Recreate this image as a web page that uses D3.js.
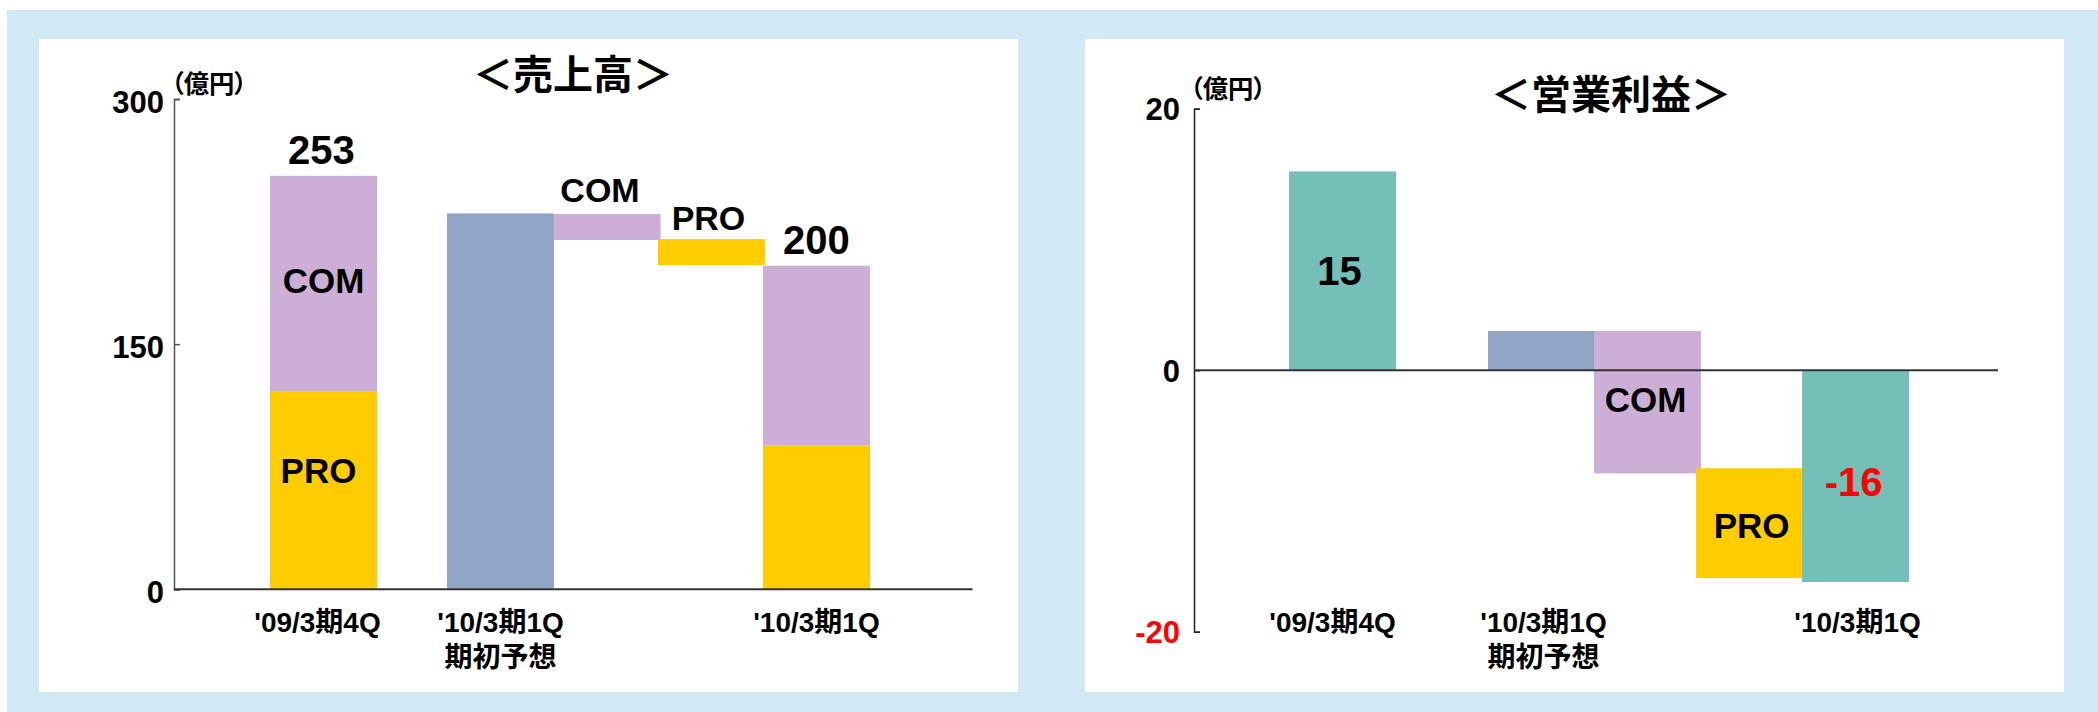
<!DOCTYPE html>
<html>
<head>
<meta charset="utf-8">
<script src="https://cdn.jsdelivr.net/npm/d3@7"></script>
<style>
  html, body { margin: 0; padding: 0; background: #fff; }
  svg { display: block; }
  text { font-family: "Liberation Sans", Arial, "Noto Sans CJK JP", sans-serif; font-weight: bold; }
  .cjk { font-family: "Noto Sans CJK JP", "Liberation Sans", sans-serif; font-feature-settings: "palt"; }
</style>
</head>
<body>
<script>
// ---------------- DATA ----------------
const categoryLabels = [["'09/3期4Q"], ["'10/3期1Q", "期初予想"], ["'10/3期1Q"]];
const unitLabel = "（億円）";

// 売上高 (sales)
const salesTitle = "＜売上高＞";
const salesTicks = [0, 150, 300];
const salesPRO = [121, 88];          // '09/3期4Q, '10/3期1Q
const salesCOM = [132, 110];
const salesForecast = 230;           // '10/3期1Q 期初予想
const salesBridgeCOM = [229.6, 213.7];
const salesBridgePRO = [214.3, 198.4];
const salesTotals = ["253", "200"];

// 営業利益 (operating profit)
const profitTitle = "＜営業利益＞";
const profitTicks = [-20, 0, 20];
const profitActual = [15.2, -16.2];  // '09/3期4Q, '10/3期1Q
const profitForecast = 3;
const profitBridgeCOM = [3, -7.9];
const profitBridgePRO = [-7.5, -15.9];
const profitLabels = ["15", "-16"];

const segNames = ["COM", "PRO"];

// ---------------- STYLE ----------------
const C = {
  bg: "#D1E8F5", panel: "#FFFFFF",
  com: "#CDAED6", pro: "#FFCC00", fc: "#91A5C6", op: "#74BFB7",
  red: "#FF0000", ink: "#000000", axis: "#333333"
};

const W = 2098, H = 712;
const svg = d3.select("body").append("svg").attr("width", W).attr("height", H);
svg.append("rect").attr("x", 7).attr("y", 10).attr("width", W - 7).attr("height", H - 10).attr("fill", C.bg);
svg.append("rect").attr("x", 39).attr("y", 39).attr("width", 979).attr("height", 653).attr("fill", C.panel);
svg.append("rect").attr("x", 1085).attr("y", 39).attr("width", 979).attr("height", 653).attr("fill", C.panel);

function capBase(center, fs) { return center + 0.358 * fs; }

function drawChart(cfg) {
  const g = svg.append("g");
  const x = d3.scaleLinear().domain([0, 1]).range(cfg.xRange);
  const y = d3.scaleLinear().domain(cfg.yDomain).range(cfg.yRange);
  const bw = x(cfg.barW) - x(0);

  // bars
  g.selectAll("rect.bar").data(cfg.bars).join("rect")
    .attr("class", "bar")
    .attr("x", d => x(cfg.slots[d.slot]) - bw / 2)
    .attr("width", bw)
    .attr("y", d => y(Math.max(d.v0, d.v1)))
    .attr("height", d => Math.abs(y(d.v0) - y(d.v1)))
    .attr("fill", d => d.color);

  // y axis
  const ax = d3.axisLeft(y).tickValues(cfg.ticks).tickFormat(d => String(d))
    .tickSize(-6).tickSizeOuter(-6).tickPadding(cfg.tickPad);
  const ag = g.append("g").attr("transform", `translate(${cfg.xRange[0]},0)`).call(ax);
  ag.select(".domain").attr("stroke", cfg.yAxisColor).attr("stroke-width", 1.5);
  ag.selectAll(".tick line").attr("stroke", cfg.yAxisColor).attr("stroke-width", 1.5);
  ag.attr("font-size", 31).attr("font-family", null);
  ag.selectAll(".tick text")
    .attr("dy", cfg.tickDy)
    .attr("fill", d => d < 0 ? C.red : C.ink);

  // zero / x axis line
  g.append("line")
    .attr("x1", cfg.xRange[0]).attr("x2", cfg.xRange[1])
    .attr("y1", y(0)).attr("y2", y(0))
    .attr("stroke", C.axis).attr("stroke-width", 2);

  // labels on bars
  cfg.labels.forEach(l => {
    const b = cfg.bars[l.bar];
    const top = y(Math.max(b.v0, b.v1)), bot = y(Math.min(b.v0, b.v1));
    const cx = x(cfg.slots[b.slot]) + (l.dx || 0);
    const base = l.pos === "above" ? top - l.gap : capBase((top + bot) / 2 + (l.dy || 0), l.fs);
    g.append("text").attr("x", cx).attr("y", base)
      .attr("text-anchor", "middle").attr("font-size", l.fs)
      .attr("fill", l.color || C.ink).text(l.text);
  });

  // category labels
  cfg.catSlots.forEach((s, i) => {
    categoryLabels[i].forEach((line, j) => {
      g.append("text")
        .attr("x", x(cfg.slots[s]) + (cfg.catDx[i] || 0))
        .attr("y", 632 + j * 35)
        .attr("text-anchor", "middle").attr("font-size", 28)
        .attr("fill", C.ink).text(line);
    });
  });

  // title and unit
  g.append("text").attr("class", "cjk").attr("x", cfg.titleX).attr("y", cfg.titleY)
    .attr("text-anchor", "middle").attr("font-size", 40).attr("fill", C.ink).text(cfg.title);
  g.append("text").attr("class", "cjk").attr("x", cfg.unitX).attr("y", cfg.unitY)
    .attr("font-size", 25).attr("textLength", 76).attr("lengthAdjust", "spacingAndGlyphs")
    .attr("fill", C.ink).text(unitLabel);
}

// ---------- 売上高 ----------
const salesBars = [
  { slot: 0, v0: 0, v1: salesPRO[0], color: C.pro },
  { slot: 0, v0: salesPRO[0], v1: salesPRO[0] + salesCOM[0], color: C.com },
  { slot: 1, v0: 0, v1: salesForecast, color: C.fc },
  { slot: 2, v0: salesBridgeCOM[0], v1: salesBridgeCOM[1], color: C.com },
  { slot: 3, v0: salesBridgePRO[0], v1: salesBridgePRO[1], color: C.pro },
  { slot: 4, v0: 0, v1: salesPRO[1], color: C.pro },
  { slot: 4, v0: salesPRO[1], v1: salesPRO[1] + salesCOM[1], color: C.com }
];
drawChart({
  xRange: [174, 972.5], yDomain: [0, 300], yRange: [589.3, 99],
  slots: [0.1872, 0.4089, 0.5423, 0.6731, 0.8046], barW: 0.134,
  ticks: salesTicks, tickPad: 10, tickDy: "0.44em", yAxisColor: "#555",
  bars: salesBars,
  labels: [
    { bar: 1, pos: "above", gap: 12, fs: 40, text: salesTotals[0], dx: -2 },
    { bar: 1, pos: "middle", fs: 35, text: segNames[0], dy: -3 },
    { bar: 0, pos: "middle", fs: 35, text: segNames[1], dy: -20, dx: -5 },
    { bar: 3, pos: "above", gap: 12, fs: 34, text: segNames[0], dx: -7 },
    { bar: 4, pos: "above", gap: 9, fs: 34, text: segNames[1], dx: -3 },
    { bar: 6, pos: "above", gap: 12, fs: 40, text: salesTotals[1] }
  ],
  catSlots: [0, 1, 4], catDx: [-6, 0, 0],
  title: salesTitle, titleX: 573, titleY: 89,
  unitX: 171, unitY: 93
});

// ---------- 営業利益 ----------
const profitBars = [
  { slot: 0, v0: 0, v1: profitActual[0], color: C.op },
  { slot: 1, v0: 0, v1: profitForecast, color: C.fc },
  { slot: 2, v0: profitBridgeCOM[0], v1: profitBridgeCOM[1], color: C.com },
  { slot: 3, v0: profitBridgePRO[0], v1: profitBridgePRO[1], color: C.pro },
  { slot: 4, v0: 0, v1: profitActual[1], color: C.op }
];
drawChart({
  xRange: [1194, 1998], yDomain: [-20, 20], yRange: [631.7, 108.7],
  slots: [0.1847, 0.4322, 0.564, 0.691, 0.8228], barW: 0.133,
  ticks: profitTicks, tickPad: 14, tickDy: "0.36em", yAxisColor: "#222",
  bars: profitBars,
  labels: [
    { bar: 0, pos: "middle", fs: 40, text: profitLabels[0], dx: -3 },
    { bar: 2, pos: "middle", fs: 35, text: segNames[0], dy: -3, dx: -2 },
    { bar: 3, pos: "middle", fs: 35, text: segNames[1], dy: 2, dx: 2 },
    { bar: 4, pos: "middle", fs: 40, text: profitLabels[1], color: C.red, dy: 6, dx: -2 }
  ],
  catSlots: [0, 1, 4], catDx: [-10, 2, 2],
  title: profitTitle, titleX: 1611, titleY: 109,
  unitX: 1190, unitY: 98
});
</script>
</body>
</html>
